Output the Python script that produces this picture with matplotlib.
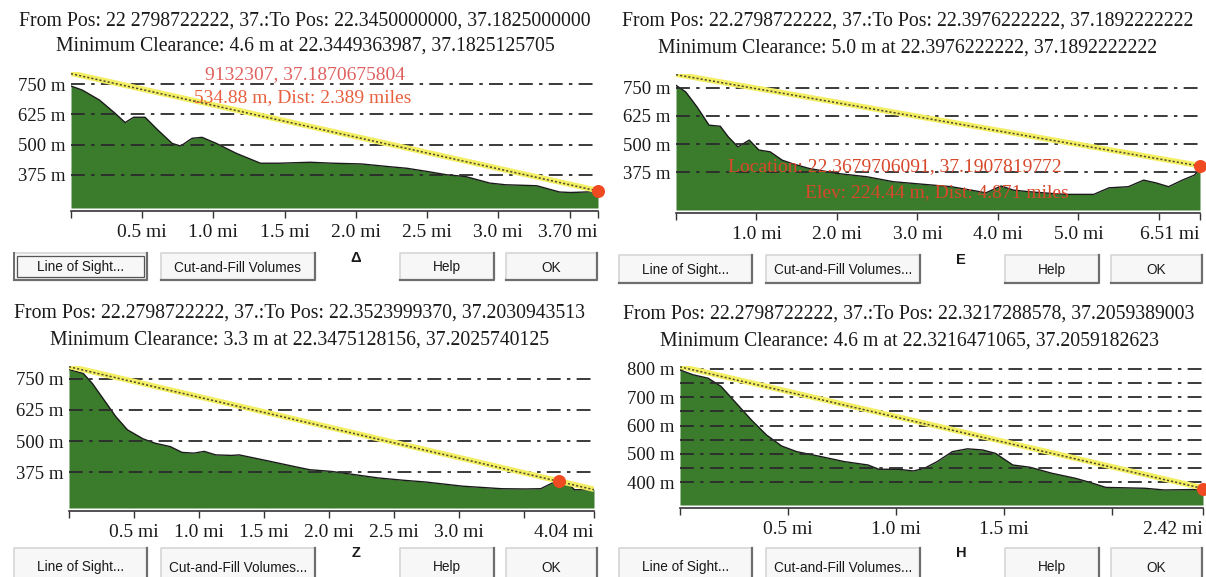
import matplotlib.pyplot as plt
from matplotlib.patches import Rectangle
from matplotlib.lines import Line2D

W, H = 1206, 577

# terrain profiles: distance (mi) / elevation (m)
a_dist = [0, 0.08, 0.2, 0.31, 0.38, 0.44, 0.52, 0.61, 0.71, 0.77, 0.85, 0.92, 1.02, 1.16, 1.33,
          1.46, 1.68, 1.84, 2.04, 2.23, 2.36, 2.5, 2.64, 2.77, 2.94, 3.05, 3.27, 3.43, 3.51, 3.70]
a_elev = [742, 725, 684, 629, 591, 613, 613, 560, 505, 494, 526, 530, 505, 464, 423,
          423, 427, 423, 420, 409, 402, 389, 375, 368, 341, 334, 330, 304, 302, 306]
a_los = [795, 310]
a_dot = [3.70, 309]

e_dist = [0, 0.12, 0.26, 0.41, 0.55, 0.65, 0.77, 0.91, 1.03, 1.17, 1.32, 1.46, 1.65, 1.99, 2.37,
          2.70, 3.09, 3.42, 3.71, 3.85, 4.04, 4.19, 4.38, 4.67, 4.86, 5.19, 5.38, 5.62, 5.81,
          5.96, 6.12, 6.29, 6.44, 6.51]
e_elev = [760, 731, 665, 584, 579, 532, 488, 518, 474, 466, 429, 412, 393, 371, 356,
          334, 322, 312, 294, 285, 315, 297, 290, 282, 278, 278, 307, 312, 341,
          329, 312, 341, 363, 390]
e_los = [809, 405]
e_dot = [6.51, 403]

z_dist = [0, 0.11, 0.18, 0.27, 0.36, 0.45, 0.57, 0.66, 0.78, 0.87, 0.96, 1.04, 1.13, 1.25, 1.31,
          1.43, 1.55, 1.73, 1.85, 2.02, 2.20, 2.38, 2.59, 2.74, 3.03, 3.33, 3.51, 3.63, 3.72,
          3.77, 3.85, 3.89, 4.04]
z_elev = [786, 770, 730, 664, 598, 545, 509, 492, 478, 455, 452, 459, 445, 443, 445,
          432, 419, 399, 386, 379, 366, 353, 343, 337, 320, 310, 309, 310, 333,
          338, 326, 306, 306]
z_los = [799, 308]
z_dot = [3.77, 341]

h_dist = [0, 0.06, 0.13, 0.19, 0.26, 0.33, 0.40, 0.47, 0.54, 0.65, 0.76, 0.87, 0.92, 1.01, 1.08,
          1.13, 1.19, 1.26, 1.33, 1.40, 1.46, 1.54, 1.62, 1.72, 1.83, 1.90, 1.97, 2.15, 2.24, 2.42]
h_elev = [796, 779, 767, 738, 679, 620, 567, 528, 508, 491, 473, 461, 446, 446, 440,
          449, 473, 508, 518, 514, 502, 461, 453, 432, 414, 399, 382, 379, 373, 375]
h_los = [809, 380]
h_dot = [2.42, 378]

a_xticks = [0, 0.5, 1.0, 1.5, 2.0, 2.5, 3.0, 3.5, 3.70]
a_xlabels = ['', '0.5 mi', '1.0 mi', '1.5 mi', '2.0 mi', '2.5 mi', '3.0 mi', '', '3.70 mi']
e_xticks = [0, 1, 2, 3, 4, 5, 6, 6.51]
e_xlabels = ['', '1.0 mi', '2.0 mi', '3.0 mi', '4.0 mi', '5.0 mi', '', '6.51 mi']
z_xticks = [0, 0.5, 1.0, 1.5, 2.0, 2.5, 3.0, 3.5, 4.04]
z_xlabels = ['', '0.5 mi', '1.0 mi', '1.5 mi', '2.0 mi', '2.5 mi', '3.0 mi', '', '4.04 mi']
h_xticks = [0, 0.5, 1.0, 1.5, 2.0, 2.42]
h_xlabels = ['', '0.5 mi', '1.0 mi', '1.5 mi', '', '2.42 mi']

m_yticks = [375, 500, 625, 750]
h_yticks = [400, 500, 600, 700, 800]
h_yminor = [450, 550, 650, 750]

a_title = ['From Pos: 22 2798722222, 37.:To Pos: 22.3450000000, 37.1825000000',
           'Minimum Clearance: 4.6 m at 22.3449363987, 37.1825125705']
e_title = ['From Pos: 22.2798722222, 37.:To Pos: 22.3976222222, 37.1892222222',
           'Minimum Clearance: 5.0 m at 22.3976222222, 37.1892222222']
z_title = ['From Pos: 22.2798722222, 37.:To Pos: 22.3523999370, 37.2030943513',
           'Minimum Clearance: 3.3 m at 22.3475128156, 37.2025740125']
h_title = ['From Pos: 22.2798722222, 37.:To Pos: 22.3217288578, 37.2059389003',
           'Minimum Clearance: 4.6 m at 22.3216471065, 37.2059182623']

a_note = ['9132307, 37.1870675804', '534.88 m, Dist: 2.389 miles']
e_note = ['Location: 22.3679706091, 37.1907819772', 'Elev: 224.44 m, Dist: 4.871 miles']

plt.rcParams['lines.scale_dashes'] = False
SERIF = 'Liberation Serif'
SANS = 'Liberation Sans'
GREEN = '#3b7b2c'

fig = plt.figure(figsize=(W / 100, H / 100), dpi=100)
fig.patch.set_facecolor('white')


def px_axes(x0, y0, x1, y1):
    return fig.add_axes([x0 / W, 1 - y1 / H, (x1 - x0) / W, (y1 - y0) / H])


def ftext(x, y, s, **kw):
    fig.text(x / W, 1 - y / H, s, ha=kw.pop('ha', 'center'), va=kw.pop('va', 'center'), **kw)


def profile(ax, dist, elev, los, dot, ylim, xticks, xlabels, yticks, yminor=None):
    xmax = dist[-1]
    ax.set_xlim(0, xmax)
    ax.set_ylim(*ylim)
    ax.fill_between(dist, elev, ylim[0], color=GREEN, lw=0, zorder=1)
    ax.plot(dist, elev, color='#1a1a1a', lw=1.0, zorder=2)
    ax.set_yticks(yticks, [f'{v} m' for v in yticks])
    if yminor:
        ax.set_yticks(yminor, minor=True)
    ax.yaxis.grid(True, which='both', color='#2b2b2b', lw=1.3,
                  linestyle=(0, (10, 4.5, 2.5, 4.5)), zorder=3)
    ax.set_axisbelow(False)
    ax.plot([0, xmax], los, color='#f3ee62', lw=4.0, solid_capstyle='butt', zorder=4)
    ax.plot([0, xmax], [v - 2 for v in los], color='#222222', lw=1.1,
            linestyle=(0, (1.5, 1.5)), alpha=0.8, zorder=5)
    ax.scatter([dot[0]], [dot[1]], s=70, color='#f04a22', zorder=6, clip_on=False)
    ax.set_xticks(xticks, xlabels)
    for s in ['top', 'left', 'right']:
        ax.spines[s].set_visible(False)
    ax.spines['bottom'].set_position(('outward', 2.5))
    ax.spines['bottom'].set_color('#333333')
    ax.spines['bottom'].set_linewidth(1.2)
    ax.tick_params(axis='x', length=5, width=1, color='#333333', pad=4,
                   labelsize=14, labelcolor='#1a1a1a')
    ax.tick_params(axis='y', which='both', length=0, pad=4, labelsize=13.5, labelcolor='#1a1a1a')
    for t in ax.xaxis.get_major_ticks() + ax.yaxis.get_major_ticks():
        t.label1.set_family(SERIF)
    ax.xaxis.get_major_ticks()[-1].label1.set_horizontalalignment('right')
    ax.set_facecolor('white')


def button(x0, y0, x1, y1, label, focus=False):
    fig.add_artist(Rectangle((x0 / W, 1 - y1 / H), (x1 - x0) / W, (y1 - y0) / H,
                             transform=fig.transFigure, fc='#f7f7f7', ec='none'))
    # light top/left, dark bottom/right edges like a raised windows button
    fig.add_artist(Line2D([x0 / W, x0 / W, x1 / W], [1 - y1 / H, 1 - y0 / H, 1 - y0 / H],
                          transform=fig.transFigure, color='#d6d6d6', lw=1.2))
    fig.add_artist(Line2D([x0 / W, x1 / W, x1 / W], [1 - y1 / H, 1 - y1 / H, 1 - y0 / H],
                          transform=fig.transFigure, color='#6e6e6e', lw=1.6))
    if focus:
        fig.add_artist(Rectangle(((x0 + 3) / W, 1 - (y1 - 3) / H), (x1 - x0 - 6) / W,
                                 (y1 - y0 - 6) / H, transform=fig.transFigure,
                                 fc='none', ec='#555555', lw=0.9))
        fig.add_artist(Line2D([x0 / W, x0 / W], [1 - y1 / H, 1 - y0 / H],
                              transform=fig.transFigure, color='#6e6e6e', lw=1.4))
    ftext((x0 + x1) / 2, (y0 + y1) / 2 + 1, label, family=SANS, fontsize=9.8, color='#1a1a1a')


# panel boxes in pixels
ax_a = px_axes(71, 72, 598, 208)
profile(ax_a, a_dist, a_elev, a_los, a_dot, (238, 800), a_xticks, a_xlabels, m_yticks)
ax_e = px_axes(676, 74, 1200, 210)
profile(ax_e, e_dist, e_elev, e_los, e_dot, (209, 810), e_xticks, e_xlabels, m_yticks)
ax_z = px_axes(69, 366, 594, 508)
profile(ax_z, z_dist, z_elev, z_los, z_dot, (233, 800), z_xticks, z_xlabels, m_yticks)
ax_h = px_axes(680, 366, 1203, 505)
profile(ax_h, h_dist, h_elev, h_los, h_dot, (320, 810), h_xticks, h_xlabels, h_yticks, h_yminor)

# headers
for (cx, y1, y2), lines in [((305, 21, 46), a_title), ((908, 21, 48), e_title),
                            ((300, 313, 340), z_title), ((909, 314, 341), h_title)]:
    ftext(cx, y1, lines[0], family=SERIF, fontsize=14.2, color='#1a1a1a')
    ftext(cx, y2, lines[1], family=SERIF, fontsize=14.2, color='#1a1a1a')

# red cursor readouts
ftext(305, 75, a_note[0], family=SERIF, fontsize=14, color='#e06060')
ftext(303, 98, a_note[1], family=SERIF, fontsize=14, color='#e8603e')
ftext(895, 167, a_note and e_note[0], family=SERIF, fontsize=14, color='#d8482a')
ftext(937, 193, e_note[1], family=SERIF, fontsize=14, color='#d8482a')

# dialog buttons
for (ox, y0, y1, tag, lbl) in [(0, 253, 280, 'Δ', ''), (605, 255, 283, 'E', '...'),
                               (0, 548, 585, 'Z', '...'), (605, 548, 585, 'H', '...')]:
    button(ox + 14, y0, ox + 147, y1, 'Line of Sight...', focus=(ox == 0 and y0 < 300))
    button(ox + 161, y0, ox + 315, y1, 'Cut-and-Fill Volumes' + lbl)
    button(ox + 400, y0, ox + 494, y1, 'Help')
    button(ox + 506, y0, ox + 597, y1, 'OK')
    ftext(ox + 356, y0 + 5, tag, family=SANS, fontsize=10.5, weight='bold', color='#1a1a1a')

fig.savefig('out.png', dpi=100, facecolor='white')
